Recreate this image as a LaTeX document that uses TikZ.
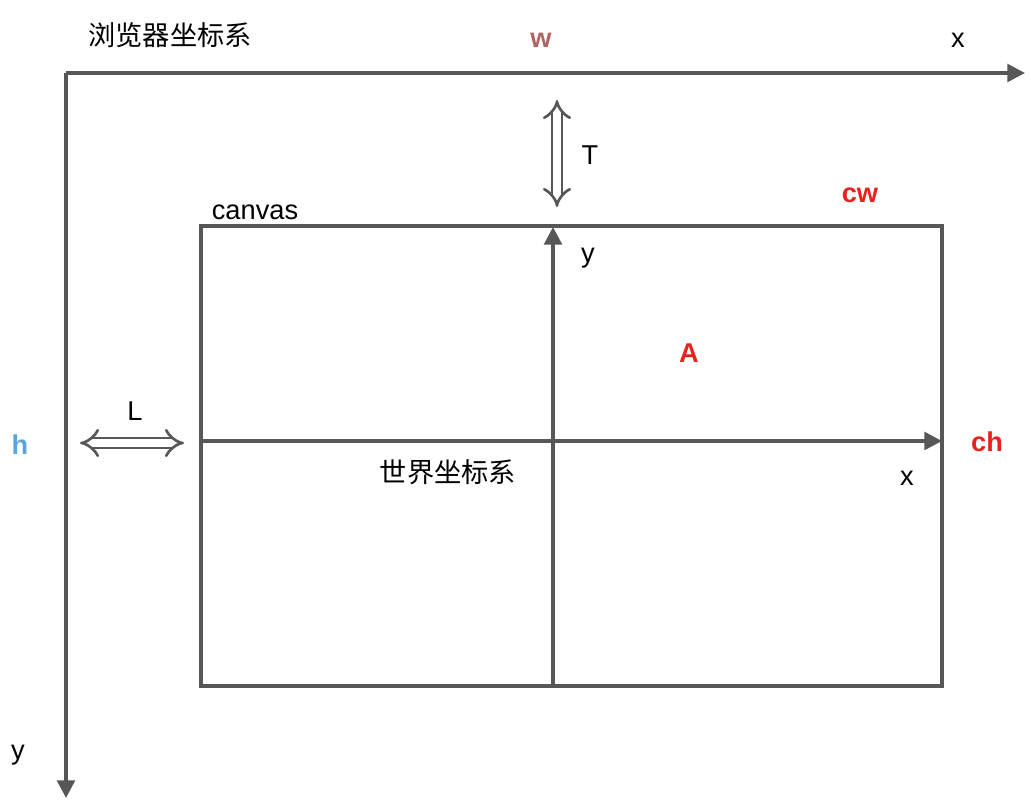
\documentclass[tikz,border=0pt]{standalone}
\usepackage{fontspec}
\setmainfont{Liberation Sans}
\newfontfamily\cjk{Noto Sans CJK SC}
\usetikzlibrary{arrows.meta}
\definecolor{axisgray}{HTML}{575757}
\definecolor{wred}{HTML}{B06464}
\definecolor{hblue}{HTML}{5AA5DC}
\definecolor{cred}{HTML}{E8231E}
\tikzset{
  axis/.style = {
    draw=axisgray, line width=2pt, -{Triangle[length=10pt, width=10pt]}
  },
  hollow/.style = {
    draw=axisgray, double, double distance=4pt, line width=1.5pt,
    {Implies}-{Implies}
  },
  lbl/.style = {
    font=\fontsize{15.5}{18}\selectfont, inner sep=1pt
  },
  red lbl/.style = {
    lbl, text=cred, font=\fontsize{15.5}{18}\selectfont\bfseries
  }
}

\begin{document}
\begin{tikzpicture}[x=0.02cm, y=-0.02cm]
    \useasboundingbox (0,0) rectangle (1031,800);
    % les points
    \path
      (66,73) coordinate (O)
      (1025,73) coordinate (Ox)
      (66,798) coordinate (Oy)
      (201,226) coordinate (C1)
      (942,686) coordinate (C2)
      (553,686) coordinate (Yb)
      (553,227) coordinate (Yt)
      (201,441) coordinate (Xl)
      (942,441) coordinate (Xr)
      (557,100) coordinate (T1)
      (557,207) coordinate (T2)
      (80,443) coordinate (L1)
      (184,443) coordinate (L2)
    ;
    % le canvas
    \draw[axisgray, line width=2pt] (C1) rectangle (C2);
    % les axes
    \path
      (O) edge[axis] (Ox)
      (O) edge[axis] (Oy)
      (Yb) edge[axis] (Yt)
      (Xl) edge[axis] (Xr)
    ;
    \draw[hollow] (T1) -- (T2);
    \draw[hollow] (L1) -- (L2);
    % les textes
    \node[lbl] (browser) at (170,35) {\cjk 浏览器坐标系};
    \node[lbl, text=wred, font=\fontsize{15.5}{18}\selectfont\bfseries] (w) at (541,40) {w};
    \node[lbl] (bx) at (958,40) {x};
    \node[lbl] (by) at (18,755) {y};
    \node[lbl, text=hblue, font=\fontsize{15.5}{18}\selectfont\bfseries] (h) at (20,445) {h};
    \node[lbl] (canvas) at (255,212) {canvas};
    \node[lbl] (T) at (590,155) {T};
    \node[lbl] (L) at (135,411) {L};
    \node[lbl] (wy) at (588,258) {y};
    \node[lbl] (wx) at (907,478) {x};
    \node[lbl] (world) at (448,472) {\cjk 世界坐标系};
    \node[red lbl] (A) at (689,353) {A};
    \node[red lbl] (cw) at (860,195) {cw};
    \node[red lbl] (ch) at (987,442) {ch};
\end{tikzpicture}
\end{document}
